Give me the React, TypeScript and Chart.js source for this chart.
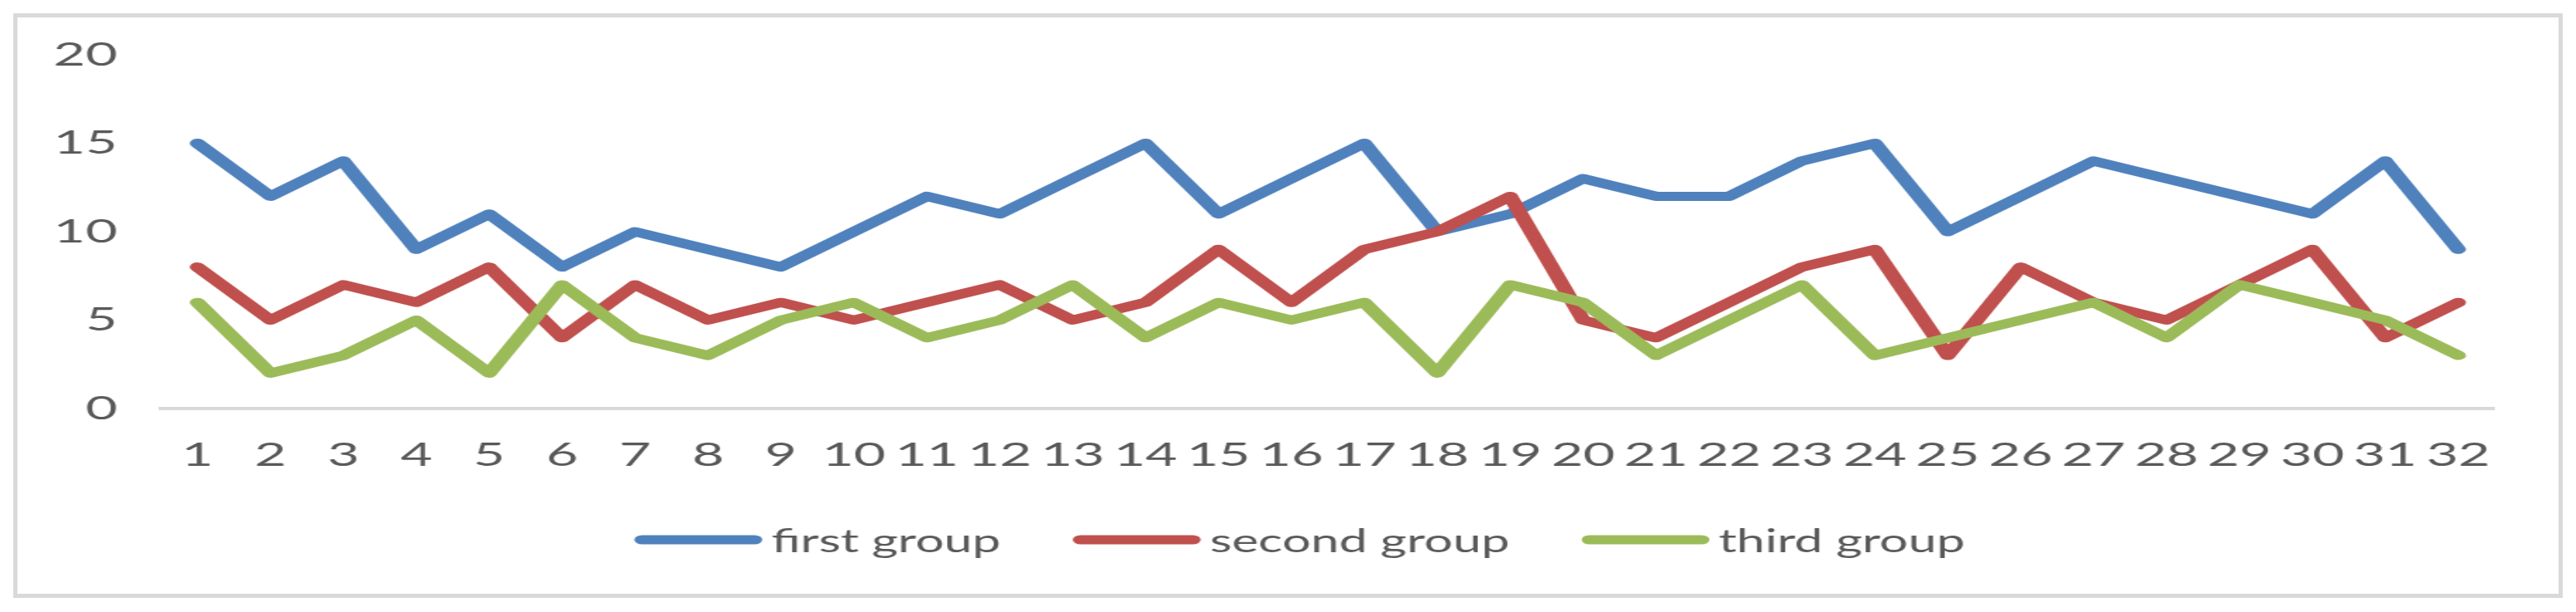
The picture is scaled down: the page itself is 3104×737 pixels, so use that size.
import React, { useEffect, useRef } from "react";
import { Chart, registerables } from "chart.js";

Chart.register(...registerables);

const categories = ["1","2","3","4","5","6","7","8","9","10","11","12","13","14","15","16","17","18","19","20","21","22","23","24","25","26","27","28","29","30","31","32"];
const firstGroup = [15,12,14,9,11,8,10,9,8,10,12,11,13,15,11,13,15,10,11,13,12,12,14,15,10,12,14,13,12,11,14,9];
const secondGroup = [8,5,7,6,8,4,7,5,6,5,6,7,5,6,9,6,9,10,12,5,4,6,8,9,3,8,6,5,7,9,4,6];
const thirdGroup = [6,2,3,5,2,7,4,3,5,6,4,5,7,4,6,5,6,2,7,6,3,5,7,3,4,5,6,4,7,6,5,3];
const seriesNames = ["first group", "second group", "third group"];
const seriesColors = ["#4F81BD", "#C0504D", "#9BBB59"];
const yMin = 0;
const yMax = 20;
const yStep = 5;

// layout (page pixels)
const S = 1.7; // horizontal stretch
const INNER_W = 3062;
const INNER_H = 694;
const W = INNER_W / S;
const FONT_SIZE = 39;
const FONT_FAMILY = "Lato";
const TEXT_COLOR = "#595959";
const LEGEND_TEXT_SQUEEZE = 0.92;
const toX = (px: number) => (px - 21) / S;

const legendPlugin = {
  id: "customLegend",
  afterDraw(chart: any) {
    const ctx = chart.ctx as CanvasRenderingContext2D;
    ctx.save();
    ctx.font = `${FONT_SIZE}px ${FONT_FAMILY}`;
    const lw = 11;
    const lineLen = 154 / S;
    const gapText = 11 / S;
    const gapItem = 87 / S;
    const items = chart.data.datasets.map((ds: any) => ({
      text: ds.label as string,
      color: ds.borderColor as string,
      w: ctx.measureText(ds.label).width * LEGEND_TEXT_SQUEEZE,
    }));
    let total = 0;
    items.forEach((it: any, i: number) => {
      total += lineLen + gapText + it.w + (i > 0 ? gapItem : 0);
    });
    let x = toX(1566) - total / 2;
    const y = 629;
    items.forEach((it: any) => {
      ctx.beginPath();
      ctx.strokeStyle = it.color;
      ctx.lineWidth = lw;
      ctx.lineCap = "round";
      ctx.moveTo(x + lw / 2, y);
      ctx.lineTo(x + lineLen - lw / 2, y);
      ctx.stroke();
      ctx.fillStyle = TEXT_COLOR;
      ctx.textBaseline = "middle";
      ctx.textAlign = "left";
      const tx = x + lineLen + gapText;
      ctx.save();
      ctx.translate(tx, y + 2);
      ctx.scale(LEGEND_TEXT_SQUEEZE, 1);
      ctx.fillText(it.text, 0, 0);
      ctx.restore();
      x += lineLen + gapText + it.w + gapItem;
    });
    ctx.restore();
  },
};

export default function App() {
  const canvasRef = useRef<HTMLCanvasElement | null>(null);

  useEffect(() => {
    if (!canvasRef.current) return;
    const data = [firstGroup, secondGroup, thirdGroup];
    const chart = new Chart(canvasRef.current, {
      type: "line",
      data: {
        labels: categories,
        datasets: data.map((d, i) => ({
          label: seriesNames[i],
          data: d,
          borderColor: seriesColors[i],
          backgroundColor: seriesColors[i],
          borderWidth: 11,
          pointRadius: 0,
          pointHoverRadius: 0,
          tension: 0,
          borderCapStyle: "round" as const,
          borderJoinStyle: "round" as const,
          order: 3 - i,
        })),
      },
      options: {
        animation: false,
        responsive: true,
        maintainAspectRatio: false,
        devicePixelRatio: 1,
        layout: {
          padding: { left: 0, right: W - toX(3006), top: 45, bottom: INNER_H - 471 - 80 },
        },
        plugins: {
          legend: { display: false },
          tooltip: { enabled: false },
          title: { display: false },
        },
        scales: {
          x: {
            type: "category",
            offset: true,
            grid: { display: false, drawTicks: false },
            border: { display: true, color: "#D9D9D9", width: 4 },
            ticks: {
              color: TEXT_COLOR,
              font: { family: FONT_FAMILY, size: FONT_SIZE },
              padding: 33,
              maxRotation: 0,
              autoSkip: false,
            },
            afterFit: (scale: any) => {
              scale.height = 80;
              scale.paddingLeft = 0;
              scale.paddingRight = 0;
            },
          },
          y: {
            min: yMin,
            max: yMax,
            grid: { display: false, drawTicks: false },
            border: { display: false },
            ticks: {
              stepSize: yStep,
              color: TEXT_COLOR,
              font: { family: FONT_FAMILY, size: FONT_SIZE },
              padding: 31,
            },
            afterFit: (scale: any) => {
              scale.width = toX(194);
              scale.paddingTop = 0;
              scale.paddingBottom = 0;
            },
          },
        },
      },
      plugins: [legendPlugin],
    });
    return () => chart.destroy();
  }, []);

  return (
    <div
      style={{
        position: "absolute",
        left: 16,
        top: 16,
        width: 3072,
        height: 704,
        boxSizing: "border-box",
        border: "5px solid #D9D9D9",
        background: "#FFFFFF",
        overflow: "hidden",
      }}
    >
      <div
        style={{
          width: W,
          height: INNER_H,
          position: "relative",
          transform: `scaleX(${S})`,
          transformOrigin: "0 0",
        }}
      >
        <canvas ref={canvasRef} />
      </div>
    </div>
  );
}
